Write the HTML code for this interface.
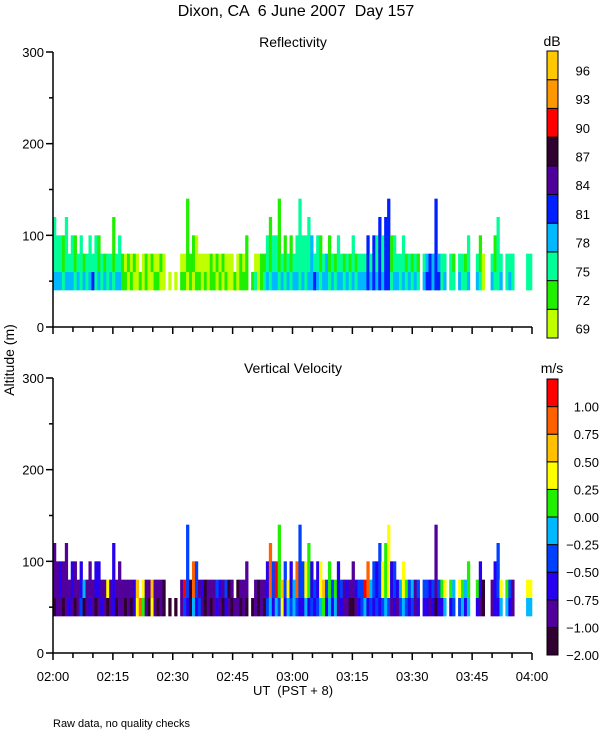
<!DOCTYPE html>
<html><head><meta charset="utf-8"><style>
body{margin:0;background:#fff;width:600px;height:750px;overflow:hidden}
svg text{font-family:"Liberation Sans",sans-serif;fill:#000;white-space:pre}
</style></head><body>
<svg id="c" width="600" height="750" viewBox="0 0 600 750">
<text x="296" y="16" font-size="16" text-anchor="middle" xml:space="preserve">Dixon, CA  6 June 2007  Day 157</text>
<text x="293" y="47" font-size="14" text-anchor="middle">Reflectivity</text>
<text x="293" y="373" font-size="14" text-anchor="middle">Vertical Velocity</text>
<text transform="translate(14,360) rotate(-90)" font-size="14" text-anchor="middle">Altitude (m)</text>
<text x="293" y="695" font-size="13" text-anchor="middle" xml:space="preserve">UT  (PST + 8)</text>
<text x="53" y="727" font-size="11">Raw data, no quality checks</text>
<text x="552" y="46" font-size="14" text-anchor="middle">dB</text>
<text x="552" y="373" font-size="14" text-anchor="middle">m/s</text>
<g id="g"></g>
</svg>
<script>
// time bins (each char = one time column), heights: digit*20 m (0 = no data)
const heights = "65556455454454554444645"+"444444344444444"+"03030"+"4474554444444444443444"+"503444"+"4565574545457"+"556545544544544445"+"44445455656755"+"4454444404"+"44474"+"4404404445004540045640444000044";
const reflUpper = "22212221221222212122122"+"101010001010010"+"00000"+"0011100000101010001010"+"101001"+"1212212121222"+"222322123121221212"+"12224242424412"+"2221212102"+"34343"+"2202102212002100221220222000022";
const reflLower = "33323332323234232323233"+"110100101001100"+"00000"+"1101011010110101001011"+"101201"+"2323323232332"+"323343233232332323"+"23334343434423"+"3232323203"+"44344"+"2302203223003200232230232000022";
const velUpper = "11211121124111221161211"+"111127961171110"+"00000"+"1930831201113213012011"+"120101"+"1283957362483"+"365232673535231211"+"23398432365623"+"2465341303"+"32313"+"5605406545005200612360531000066";
const velLower = "01101210130121012101201"+"101026851061010"+"00000"+"1320423101012102101101"+"010101"+"0342436243432"+"242323452424121100"+"12342323234312"+"1343231202"+"21202"+"2402303424002100412240421000044";
const reflColors = ["#c0ff00","#20f000","#00ff98","#00b8ff","#0020ff","#50009a","#300030","#ff0000","#ff9800","#ffc800"];
const reflLabels = ["69","72","75","78","81","84","87","90","93","96"];
const velColors = ["#300030","#52009a","#2800f0","#0040ff","#00b8ff","#20f000","#ffff00","#ffc000","#ff6000","#ff0000"];
const velLabels = ["-2.00","-1.00","-0.75","-0.50","-0.25","0.00","0.25","0.50","0.75","1.00"];
const yTicks = [0,100,200,300];
const xTickLabels = ["02:00","02:15","02:30","02:45","03:00","03:15","03:30","03:45","04:00"];

const g = document.getElementById('g');
const NS = "http://www.w3.org/2000/svg";
function mk(tag, attrs){const e=document.createElementNS(NS,tag);for(const k in attrs)e.setAttribute(k,attrs[k]);g.appendChild(e);return e;}
const X0=53, X1=532;
function xScale(min){return X0+(X1-X0)*min/120;}
function makeY(base){return m=>base-m*275/300;}
const panels=[{base:327,up:reflUpper,lo:reflLower,cols:reflColors,labels:reflLabels,cbTop:51,cbBot:338,name:'reflectivity',minus:false},
              {base:653,up:velUpper,lo:velLower,cols:velColors,labels:velLabels,cbTop:379,cbBot:655,name:'velocity',minus:true}];
panels.forEach(p=>{
  const y=makeY(p.base);
  const n=heights.length, w=(X1-X0)/n;
  for(let i=0;i<n;i++){
    const h=+heights[i]*20; if(!h) continue;
    const x=X0+i*w;
    const lower=mk('rect',{x:x.toFixed(2),y:y(60),width:(w+0.3).toFixed(2),height:(y(40)-y(60)).toFixed(2),fill:p.cols[+p.lo[i]]});
    
    
    if(h>60){
      const up=mk('rect',{x:x.toFixed(2),y:y(h),width:(w+0.3).toFixed(2),height:(y(60)-y(h)).toFixed(2),fill:p.cols[+p.up[i]]});
      
      
    }
  }
  const ax=mk('path',{d:`M${X0} ${y(300)}V${p.base}H${X1}`,stroke:'#000','stroke-width':1.5,fill:'none'});
  
  
  for(let v=0;v<=300;v+=50){
    const major=v%100===0;
    const t=mk('line',{x1:X0-(major?7:4),x2:X0,y1:y(v),y2:y(v),stroke:'#000','stroke-width':1.5});
    
    
  }
  yTicks.forEach(v=>{
    const t=mk('text',{x:X0-9,y:y(v)+5,'font-size':13,'text-anchor':'end'});t.textContent=v;
    
    
  });
  for(let m=0;m<=120;m+=5){
    const major=m%15===0;
    const t=mk('line',{x1:xScale(m),x2:xScale(m),y1:p.base,y2:p.base+(major?7:5),stroke:'#000','stroke-width':1.5});
    
    
  }
  const k=p.cols.length, sh=(p.cbBot-p.cbTop)/k;
  for(let j=0;j<k;j++){
    const yy=p.cbBot-(j+1)*sh;
    const r=mk('rect',{x:547,y:yy,width:11,height:sh,fill:p.cols[j],stroke:'#000','stroke-width':1});
    
    
    const t=mk('text',{x:p.minus?599:590,y:(p.minus?yy+sh+5:yy+sh/2+10),'font-size':13,'text-anchor':'end'});
    t.textContent=p.labels[j].replace('-','\u2212');
    
    
  }
});
xTickLabels.forEach((s,i)=>{
  const t=mk('text',{x:xScale(i*15),y:681,'font-size':13,'text-anchor':'middle'});t.textContent=s;
  
  
});
</script>
</body></html>
